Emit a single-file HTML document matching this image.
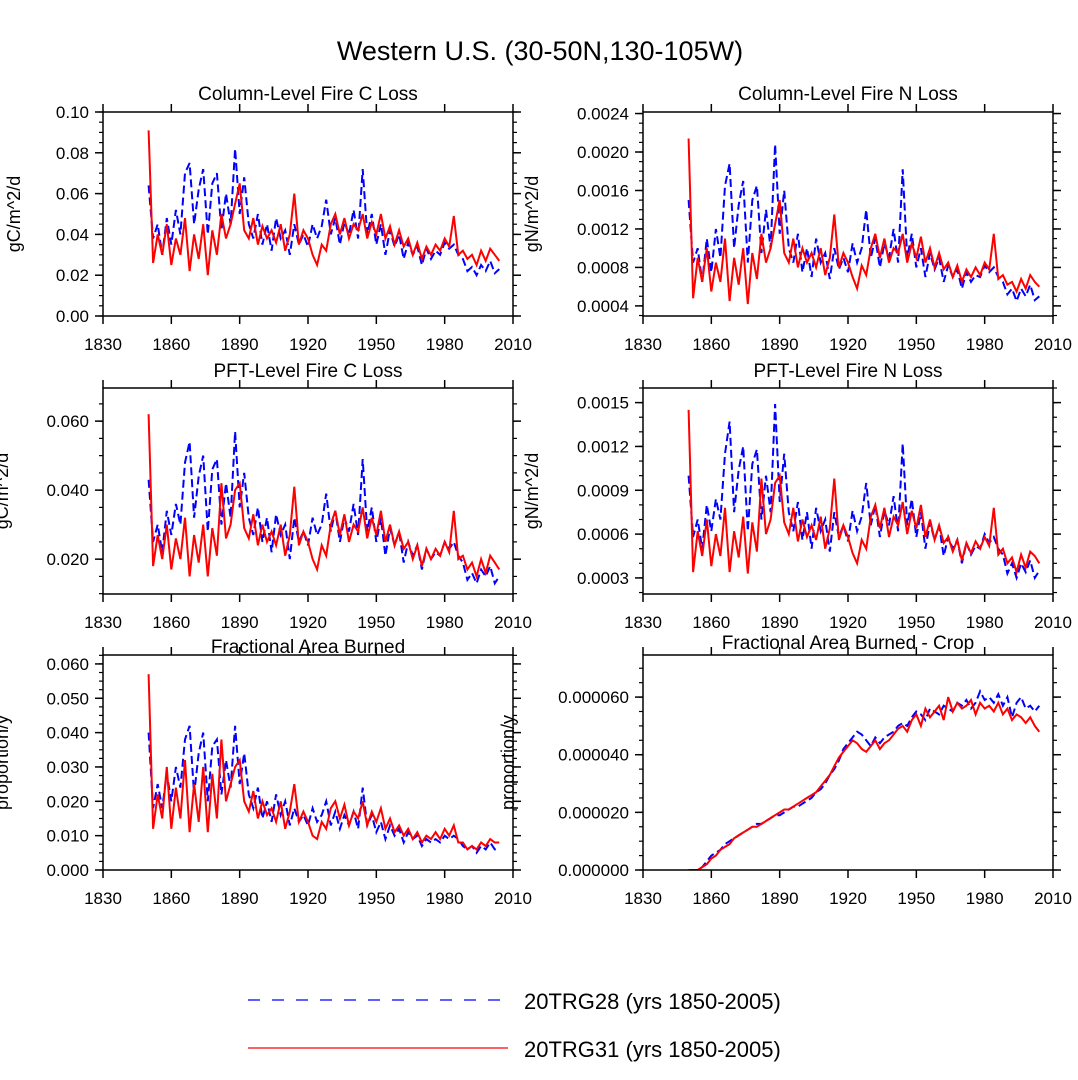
<!DOCTYPE html>
<html><head><meta charset="utf-8">
<style>
html,body{margin:0;padding:0;background:#fff;}
svg{display:block;font-family:"Liberation Sans",sans-serif;}
</style></head>
<body>
<svg id="chart" width="1078" height="1080" viewBox="0 0 1078 1080" xmlns="http://www.w3.org/2000/svg">
<rect width="1078" height="1080" fill="#fff"/>
<text x="540" y="60" font-size="27" text-anchor="middle">Western U.S. (30-50N,130-105W)</text>
<g id="panels"></g>
<g>
<line x1="248" y1="1000" x2="508" y2="1000" stroke="#0000ff" stroke-width="1.3" stroke-dasharray="12,12"/>
<text x="524" y="1009" font-size="22">20TRG28 (yrs 1850-2005)</text>
<line x1="248" y1="1048" x2="508" y2="1048" stroke="#ff0000" stroke-width="1.3"/>
<text x="524" y="1057" font-size="22">20TRG31 (yrs 1850-2005)</text>
</g>
</svg>
<script>
// years: 1850 + 2*i
const startYear = 1850, yearStep = 2;
// Panel 1 column C loss (units 1e-3 gC/m^2/d)
const colC28 = [64,38,45,30,48,35,52,40,70,75,45,62,72,40,65,70,42,60,45,82,50,68,45,38,50,35,45,32,48,38,42,30,45,35,40,34,45,38,44,57,40,48,35,46,40,52,38,72,40,50,35,45,30,42,34,40,28,36,30,34,25,33,28,32,30,36,33,35,30,28,22,24,20,25,22,27,21,23];
const colC31 = [91,26,40,30,45,25,38,30,48,22,40,28,45,20,42,30,50,38,45,55,65,42,38,48,35,44,38,42,36,45,32,40,60,35,42,38,30,25,35,32,45,50,40,48,38,45,42,50,38,46,40,50,38,44,35,42,34,38,30,36,28,34,30,35,32,38,34,49,30,32,28,30,25,32,27,33,30,27];
// Panel 2 column N loss (units 1e-5)
const colN28 = [150,85,100,65,110,75,120,90,165,188,100,145,170,85,150,165,95,140,100,208,115,160,100,85,115,75,100,70,110,85,95,68,100,78,90,75,105,85,100,140,90,110,80,105,90,120,85,182,90,115,80,100,70,95,78,90,65,82,70,78,58,75,65,72,70,82,75,80,70,65,52,58,45,58,50,62,46,50];
const colN31 = [214,48,90,65,100,55,85,65,110,45,90,62,100,42,95,68,115,85,100,125,150,95,85,110,80,100,85,95,80,100,72,90,135,80,95,85,70,58,82,72,100,115,90,110,85,100,95,115,85,105,90,112,85,100,80,95,78,85,70,82,65,78,70,80,72,85,78,115,68,72,62,65,55,68,58,72,65,60];
// Panel 3 PFT C loss (1e-3)
const pftC28 = [43,25,30,22,34,27,36,30,48,54,32,44,50,28,46,49,30,42,32,57,35,45,32,27,35,25,32,22,33,27,30,20,32,25,28,24,32,27,30,39,28,34,25,32,28,36,27,49,28,35,25,32,21,29,24,28,19,25,21,24,17,23,20,22,21,25,23,25,21,19,14,16,13,17,15,18,13,15];
const pftC31 = [62,18,27,20,30,17,26,20,32,15,27,19,30,15,29,21,42,26,30,40,42,29,26,33,24,30,25,28,24,30,21,27,41,24,28,25,20,17,24,21,30,34,27,33,25,30,28,35,26,32,27,34,25,30,24,28,23,25,20,24,18,23,20,23,21,25,22,34,20,21,17,19,15,20,16,21,19,17];
// Panel 4 PFT N loss (1e-5)
const pftN28 = [100,58,70,50,80,62,84,70,115,137,75,104,120,62,108,118,70,100,75,149,82,115,75,62,82,56,75,50,78,62,70,48,75,58,66,55,76,62,72,95,66,80,58,76,66,86,62,122,66,84,58,75,50,68,56,66,45,58,50,56,40,54,46,52,50,60,54,58,50,46,33,40,30,40,34,42,30,35];
const pftN31 = [145,34,62,45,70,38,60,45,78,34,62,44,72,33,68,48,98,60,70,95,100,68,60,78,55,70,58,66,56,72,50,64,98,56,66,58,47,40,56,50,72,80,64,78,58,72,66,82,60,76,64,80,58,70,56,66,54,58,48,56,42,54,47,55,50,58,52,78,46,50,40,44,34,46,37,48,45,40];
// Panel 5 fractional area burned (1e-3)
const fab28 = [40,18,25,18,28,20,30,24,38,42,22,34,40,20,36,38,22,32,24,42,25,34,22,18,24,15,20,14,22,16,20,13,18,14,16,13,18,14,16,20,13,17,12,16,13,17,12,24,13,16,11,14,9,13,10,12,8,11,9,10,7,9,8,9,8,10,9,10,9,7,6,7,5,7,6,8,6,6];
const fab31 = [57,12,22,15,30,12,24,15,32,11,25,14,30,11,28,15,38,20,25,30,32,20,17,23,15,20,16,18,14,20,12,17,25,14,17,14,10,9,14,12,18,20,15,19,13,17,15,20,13,17,14,18,12,15,11,13,10,12,9,11,8,10,9,11,9,12,10,13,8,8,6,7,6,8,7,9,8,8];
// Panel 6 crop (1e-6)
const crop28 = [0,0,0,1,3,5,6,7,9,10,11,12,13,14,15,16,16,17,18,19,19,20,21,22,22,23,24,25,27,28,30,33,35,38,42,44,46,48,47,45,43,46,44,46,47,48,50,51,50,53,55,54,52,56,55,54,57,56,55,58,57,59,56,58,62,59,60,58,61,57,60,53,58,60,56,57,55,57];
const crop31 = [0,0,0,1,2,4,5,7,8,9,11,12,13,14,15,15,16,17,18,19,20,21,21,22,23,24,25,26,27,29,31,33,36,39,41,43,45,44,42,41,43,45,42,44,45,47,49,50,48,52,54,50,56,53,55,57,52,60,55,58,56,57,59,54,58,56,57,55,58,54,56,52,54,53,51,53,50,48];
const xTickLabels = ["1830","1860","1890","1920","1950","1980","2010"];

const NS = "http://www.w3.org/2000/svg";
const root = document.getElementById("panels");
function mk(tag, attrs, parent){const e=document.createElementNS(NS,tag);for(const k in attrs)e.setAttribute(k,attrs[k]);(parent||root).appendChild(e);return e;}

const panels = [
 {name:"column-fire-c-loss",title:"Column-Level Fire C Loss",ylab:"gC/m^2/d",x0:103,x1:513,yT:112,yB:316,vmin:0,vmax:0.10,scale:1e-3,a:colC28,b:colC31,ticks:[0,0.02,0.04,0.06,0.08,0.10],dec:2,minor:0.005,ylx:20,ty:100},
 {name:"column-fire-n-loss",title:"Column-Level Fire N Loss",ylab:"gN/m^2/d",x0:643,x1:1053,yT:112,yB:316,vmin:0.000295,vmax:0.002416,scale:1e-5,a:colN28,b:colN31,ticks:[0.0004,0.0008,0.0012,0.0016,0.0020,0.0024],dec:4,minor:0.0001,ylx:538,ty:100},
 {name:"pft-fire-c-loss",title:"PFT-Level Fire C Loss",ylab:"gC/m^2/d",x0:103,x1:513,yT:388,yB:594,vmin:0.0099,vmax:0.0696,scale:1e-3,a:pftC28,b:pftC31,ticks:[0.02,0.04,0.06],dec:3,minor:0.005,ylx:8,ty:377},
 {name:"pft-fire-n-loss",title:"PFT-Level Fire N Loss",ylab:"gN/m^2/d",x0:643,x1:1053,yT:388,yB:594,vmin:0.00019,vmax:0.00160,scale:1e-5,a:pftN28,b:pftN31,ticks:[0.0003,0.0006,0.0009,0.0012,0.0015],dec:4,minor:0.0001,ylx:538,ty:377},
 {name:"fractional-area-burned",title:"Fractional Area Burned",ylab:"proportion/y",x0:103,x1:513,yT:655,yB:870,vmin:0,vmax:0.0626,scale:1e-3,a:fab28,b:fab31,ticks:[0,0.01,0.02,0.03,0.04,0.05,0.06],dec:3,minor:0.0025,ylx:8,ty:653},
 {name:"fractional-area-burned-crop",title:"Fractional Area Burned - Crop",ylab:"proportion/y",x0:643,x1:1053,yT:655,yB:870,vmin:0,vmax:0.0000746,scale:1e-6,a:crop28,b:crop31,ticks:[0,0.00002,0.00004,0.00006],dec:6,minor:0.000005,ylx:514,ty:649}
];

panels.forEach(p=>{
 const g = mk("g",{});
 
 
 const xs = y => p.x0 + (y-1830)/(2010-1830)*(p.x1-p.x0);
 const ys = v => p.yB - (v-p.vmin)/(p.vmax-p.vmin)*(p.yB-p.yT);
 const cid = "clip-"+p.name;
 const cp = mk("clipPath",{id:cid},g); mk("rect",{x:p.x0,y:p.yT,width:p.x1-p.x0,height:p.yB-p.yT},cp);
 [[p.a,"#0000ff","8,4"],[p.b,"#ff0000",""]].forEach((s,si)=>{
  const pts = s[0].map((v,i)=>xs(startYear+yearStep*i).toFixed(1)+","+ys(v*p.scale).toFixed(1)).join(" ");
  const pl = mk("polyline",{points:pts,fill:"none",stroke:s[1],"stroke-width":2,"stroke-dasharray":s[2],"clip-path":"url(#"+cid+")"},g);
  
  
 });
 const fr = mk("rect",{x:p.x0,y:p.yT,width:p.x1-p.x0,height:p.yB-p.yT,fill:"none",stroke:"#000","stroke-width":1.5},g);
 
 
 xTickLabels.forEach(l=>{
  const x = xs(+l);
  mk("line",{x1:x,y1:p.yB,x2:x,y2:p.yB+8,stroke:"#000","stroke-width":1.5},g);
  mk("line",{x1:x,y1:p.yT,x2:x,y2:p.yT-8,stroke:"#000","stroke-width":1.5},g);
  const t = mk("text",{x:x,y:p.yB+34,"font-size":17,"text-anchor":"middle"},g);
  t.textContent = l;
  
  
 });
 for(let v=Math.ceil(p.vmin/p.minor-1e-6)*p.minor; v<=p.vmax+1e-12; v+=p.minor){
  const y = ys(v);
  mk("line",{x1:p.x0,y1:y,x2:p.x0-4,y2:y,stroke:"#000","stroke-width":1.2},g);
  mk("line",{x1:p.x1,y1:y,x2:p.x1+4,y2:y,stroke:"#000","stroke-width":1.2},g);
 }
 p.ticks.forEach(v=>{
  const y = ys(v);
  mk("line",{x1:p.x0,y1:y,x2:p.x0-8,y2:y,stroke:"#000","stroke-width":1.5},g);
  mk("line",{x1:p.x1,y1:y,x2:p.x1+8,y2:y,stroke:"#000","stroke-width":1.5},g);
  const t = mk("text",{x:p.x0-14,y:y+6,"font-size":17,"text-anchor":"end"},g);
  t.textContent = v.toFixed(p.dec);
  
  
 });
 const tt = mk("text",{x:(p.x0+p.x1)/2,y:p.ty,"font-size":19,"text-anchor":"middle"},g);
 tt.textContent = p.title;
 
 
 const cy = (p.yT+p.yB)/2;
 const yl = mk("text",{x:p.ylx,y:cy,"font-size":18,"text-anchor":"middle",transform:"rotate(-90 "+p.ylx+" "+cy+")"},g);
 yl.textContent = p.ylab;
 
 
});
</script>
</body></html>
